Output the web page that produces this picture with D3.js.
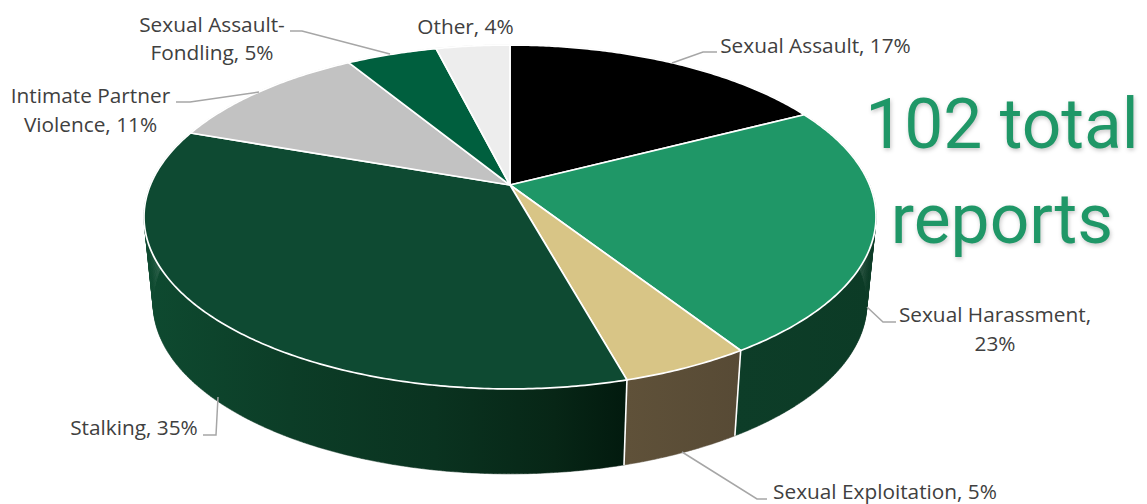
<!DOCTYPE html>
<html>
<head>
<meta charset="utf-8">
<script src="https://cdn.jsdelivr.net/npm/d3@7"></script>
<style>
  html, body { margin: 0; padding: 0; background: #fff; overflow: hidden; }
  .label { font-family: "Open Sans", sans-serif; font-size: 20.8px; fill: #404040; }
  .total { font-family: Roboto, sans-serif; font-size: 69.5px; fill: #1f9767; filter: drop-shadow(1px 2px 2px rgba(0,0,0,0.22)); }
</style>
</head>
<body>
<div id="chart"></div>
<script>
const categories = [
  "Sexual Assault",
  "Sexual Harassment",
  "Sexual Exploitation",
  "Stalking",
  "Intimate Partner Violence",
  "Sexual Assault-Fondling",
  "Other",
];
// slice sizes, the labels below are rounded
const shares = [17.4, 23.5, 4.8, 34.7, 10.9, 4.8, 3.9];
const percents = [17, 23, 5, 35, 11, 5, 4];
const topColors = ["#000000", "#1f9767", "#d8c586", "#0e4a32", "#c2c2c2", "#005f3e", "#ededed"];
const totalLines = ["102 total", "reports"];

const width = 1147,
  height = 504;

const svg = d3
  .select("#chart")
  .append("svg")
  .attr("width", width)
  .attr("height", height)
  .style("display", "block");

// tilted disc: top face and the lower edge of the wall
const tilt = 0.186;
const topFace = { cx: 510, cy: 185, sx: 359.6, sy: 166 };
const lowFace = { cx: 510, cy: 272, sx: 350.6, sy: 164.3 };

function project(angle, face) {
  const x = Math.sin(angle),
    y = -Math.cos(angle),
    w = 1 - tilt * y;
  return [face.cx + (face.sx * x) / w, face.cy + (face.sy * y) / w];
}

function sample(a0, a1) {
  const n = Math.max(2, Math.ceil((a1 - a0) / 0.01));
  return d3.range(n + 1).map((i) => a0 + ((a1 - a0) * i) / n);
}

const pie = d3.pie().sort(null).value((d) => d.share);
const slices = pie(categories.map((name, i) => ({ name, share: shares[i], color: topColors[i] })));
const line = d3.line();

const defs = svg.append("defs");

function addGradient(id, x1, x2, stops) {
  const g = defs
    .append("linearGradient")
    .attr("id", id)
    .attr("gradientUnits", "userSpaceOnUse")
    .attr("x1", x1)
    .attr("x2", x2)
    .attr("y1", 0)
    .attr("y2", 0);
  g.selectAll("stop")
    .data(stops)
    .enter()
    .append("stop")
    .attr("offset", (d) => d[0])
    .attr("stop-color", (d) => d[1]);
}

addGradient("wall-stalking", 146, 627, [
  [0, "#0e4a30"],
  [0.3, "#0c3d27"],
  [0.6, "#0a3320"],
  [0.85, "#072616"],
  [1, "#021a0e"],
]);
addGradient("wall-exploit", 627, 740, [
  [0, "#5f5139"],
  [1, "#574a35"],
]);
addGradient("wall-harass", 734, 877, [
  [0, "#0d3d28"],
  [1, "#0c3b26"],
]);

const wallFills = {
  "Sexual Harassment": "url(#wall-harass)",
  "Sexual Exploitation": "url(#wall-exploit)",
  Stalking: "url(#wall-stalking)",
};

// faint edge round the whole solid
const allPoints = sample(0, 2 * Math.PI).flatMap((a) => [project(a, topFace), project(a, lowFace)]);
svg
  .append("path")
  .attr("d", line(d3.polygonHull(allPoints)) + "Z")
  .attr("fill", "#fff")
  .attr("stroke", "#dcdcdc")
  .attr("stroke-width", 1.2);

// walls are built from small quads so the fold at the silhouette stays filled
const walls = svg.append("g");
slices
  .filter((d) => wallFills[d.data.name])
  .forEach((d) => {
    const angles = sample(d.startAngle, d.endAngle);
    const quads = d3.pairs(angles).map(
      ([a, b]) => line([project(a, topFace), project(b, topFace), project(b, lowFace), project(a, lowFace)]) + "Z"
    );
    walls
      .append("path")
      .attr("d", quads.join(""))
      .attr("fill", wallFills[d.data.name])
      .attr("stroke", wallFills[d.data.name])
      .attr("stroke-width", 0.4);
  });

// white seams between the visible walls
slices
  .filter((d) => d.data.name === "Sexual Harassment" || d.data.name === "Sexual Exploitation")
  .forEach((d) => {
    walls
      .append("path")
      .attr("d", line([project(d.endAngle, topFace), project(d.endAngle, lowFace)]))
      .attr("stroke", "#fff")
      .attr("stroke-width", 1.6)
      .attr("fill", "none");
  });

svg
  .append("g")
  .selectAll("path")
  .data(slices)
  .enter()
  .append("path")
  .attr("d", (d) => {
    const rim = sample(d.startAngle, d.endAngle).map((a) => project(a, topFace));
    return line([[topFace.cx, topFace.cy], ...rim]) + "Z";
  })
  .attr("fill", (d) => d.data.color)
  .attr("stroke", "#fff")
  .attr("stroke-width", 1.7)
  .attr("stroke-linejoin", "round");

// leader lines
const leaders = [
  [[717, 52], [703, 52], [672, 63]],
  [[896, 322], [883, 322], [867, 307]],
  [[767, 499], [757, 499], [682, 452]],
  [[203, 435], [216, 435], [218, 397]],
  [[176, 102], [190, 102], [259, 92]],
  [[290, 31], [302, 31], [390, 54]],
];
svg
  .append("g")
  .selectAll("path")
  .data(leaders)
  .enter()
  .append("path")
  .attr("d", (d) => line(d))
  .attr("fill", "none")
  .attr("stroke", "#a6a6a6")
  .attr("stroke-width", 1.5);

// data labels, one entry per slice: text lines with their centre and baseline
const labelLayout = [
  { lines: (c, p) => [`${c}, ${p}%`], x: 815.5, y: [53] },
  { lines: (c, p) => [`${c},`, `${p}%`], x: 995, y: [322, 351] },
  { lines: (c, p) => [`${c}, ${p}%`], x: 885, y: [499] },
  { lines: (c, p) => [`${c}, ${p}%`], x: 134, y: [435] },
  { lines: (c, p) => ["Intimate Partner", `Violence, ${p}%`], x: 90.5, y: [103, 132] },
  { lines: (c, p) => ["Sexual Assault-", `Fondling, ${p}%`], x: 212, y: [32, 60] },
  { lines: (c, p) => [`${c}, ${p}%`], x: 465.5, y: [34] },
];
labelLayout.forEach((l, i) => {
  l.lines(categories[i], percents[i]).forEach((t, j) => {
    svg
      .append("text")
      .attr("class", "label")
      .attr("x", l.x)
      .attr("y", l.y[j])
      .attr("text-anchor", "middle")
      .text(t);
  });
});

svg
  .selectAll(".total")
  .data(totalLines)
  .enter()
  .append("text")
  .attr("class", "total")
  .attr("x", 1002)
  .attr("y", (d, i) => 148 + i * 95)
  .attr("text-anchor", "middle")
  .text((d) => d);
</script>
</body>
</html>
